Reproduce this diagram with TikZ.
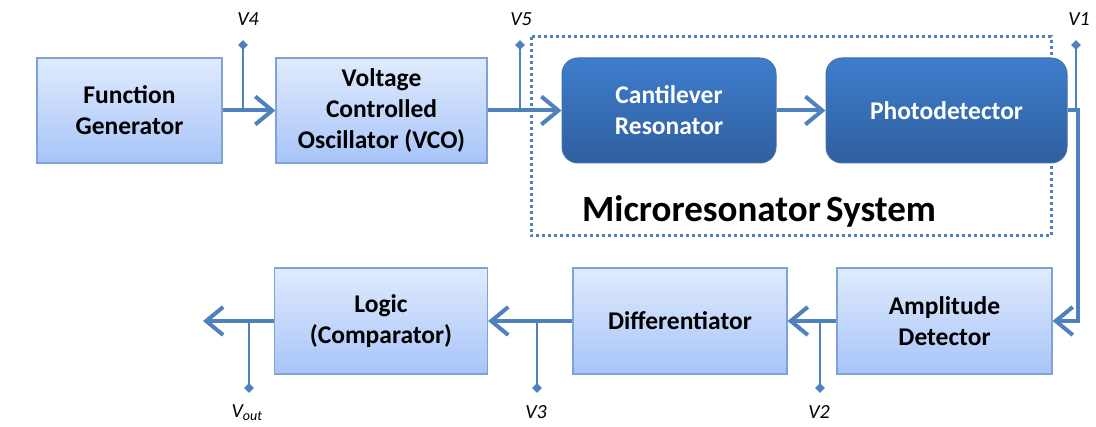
\documentclass[tikz,border=0pt]{standalone}
\usepackage{fontspec}
\setmainfont{Carlito}
\usetikzlibrary{arrows.meta,shapes.geometric}
\definecolor{ln}{HTML}{4F81BD}
\definecolor{lbord}{HTML}{7FA3D6}
\definecolor{ltop}{HTML}{E0EBFD}
\definecolor{lbot}{HTML}{A7C4F8}
\definecolor{dtop}{HTML}{3E7DCC}
\definecolor{dbot}{HTML}{2F5F9F}
\tikzset{
  lbox/.style={draw=lbord, line width=1.2pt, top color=ltop, bottom color=lbot, align=center,
    font=\fontsize{25.5}{31}\selectfont\bfseries, text=black, inner sep=0pt},
  dbox/.style={draw=dbot!90!white, line width=1pt, rounded corners=16pt, top color=dtop, bottom color=dbot, align=center,
    font=\fontsize{25.5}{31}\selectfont\bfseries, text=white, inner sep=0pt},
  conn/.style={draw=ln, line width=4pt, -{Straight Barb[length=17pt,width=28pt,line width=4pt]}},
  tapline/.style={draw=ln, line width=2pt},
  diam/.style={diamond, fill=ln, inner sep=0pt, minimum size=10pt},
  vlab/.style={font=\fontsize{20}{22}\selectfont\itshape, text=black, inner sep=0pt},
}
\begin{document}
\begin{tikzpicture}[x=1pt,y=-1pt]
\useasboundingbox (0,0) rectangle (1096,427);
% dotted system box
\draw[ln, line width=3pt, dash pattern=on 3pt off 3pt] (531,37) rectangle (1051,236);
\node[font=\fontsize{37}{40}\selectfont\bfseries] (sys) at (759,211) {Microresonator\kern-3pt\ System};
% top row
\node[lbox, minimum width=185pt, minimum height=105pt] (fg) at (129.5,110.5) {Function\\Generator};
\node[lbox, minimum width=211pt, minimum height=105pt] (vco) at (381.5,110.5) {Voltage\\Controlled\\Oscillator (VCO)};
\node[dbox, minimum width=214pt, minimum height=105pt] (cr) at (669,110.5) {Cantilever\\Resonator};
\node[dbox, minimum width=241pt, minimum height=105pt] (pd) at (946.5,110.5) {Photodetector};
% bottom row
\node[lbox, minimum width=213pt, minimum height=106pt] (lg) at (381,321) {Logic\\(Comparator)};
\node[lbox, minimum width=214pt, minimum height=106pt] (df) at (680,321) {Differentiator};
\node[lbox, minimum width=215pt, minimum height=106pt] (ad) at (944.5,321) {Amplitude\\Detector};
% connectors
\draw[conn] (fg.east) -- (vco.west);
\draw[conn] (vco.east) -- (cr.west);
\draw[conn] (cr.east) -- (pd.west);
\coordinate (c1) at (1078,110.5);
\coordinate (c2) at (1078,321);
\draw[conn] (pd.east) -- (c1) -- (c2) -- (ad.east);
\draw[conn] (ad.west) -- (df.east);
\draw[conn] (df.west) -- (lg.east);
\coordinate (out) at (203,321);
\draw[conn] (lg.west) -- (out);
% taps
\coordinate (t4) at (243,110.5); \node[diam] (d4) at (243,45) {};
\coordinate (t5) at (520,110.5); \node[diam] (d5) at (520,45) {};
\coordinate (t1) at (1076,110.5); \node[diam] (d1) at (1076,45) {};
\coordinate (t0) at (249,321); \node[diam] (d0) at (249,388) {};
\coordinate (t3) at (537,321); \node[diam] (d3) at (537,388) {};
\coordinate (t2) at (820,321); \node[diam] (d2) at (820,388) {};
\draw[tapline] (t4) -- (d4.center);
\draw[tapline] (t5) -- (d5.center);
\draw[tapline] (t1) -- (d1.center);
\draw[tapline] (t0) -- (d0.center);
\draw[tapline] (t3) -- (d3.center);
\draw[tapline] (t2) -- (d2.center);
% labels
\node[vlab] (l4) at (248,19) {V4};
\node[vlab] (l5) at (521,19) {V5};
\node[vlab] (l1) at (1079,19) {V1};
\node[vlab] (l0) at (247,413) {V\textsubscript{out}};
\node[vlab] (l3) at (536,412) {V3};
\node[vlab] (l2) at (819,412) {V2};
\end{tikzpicture}
\end{document}
